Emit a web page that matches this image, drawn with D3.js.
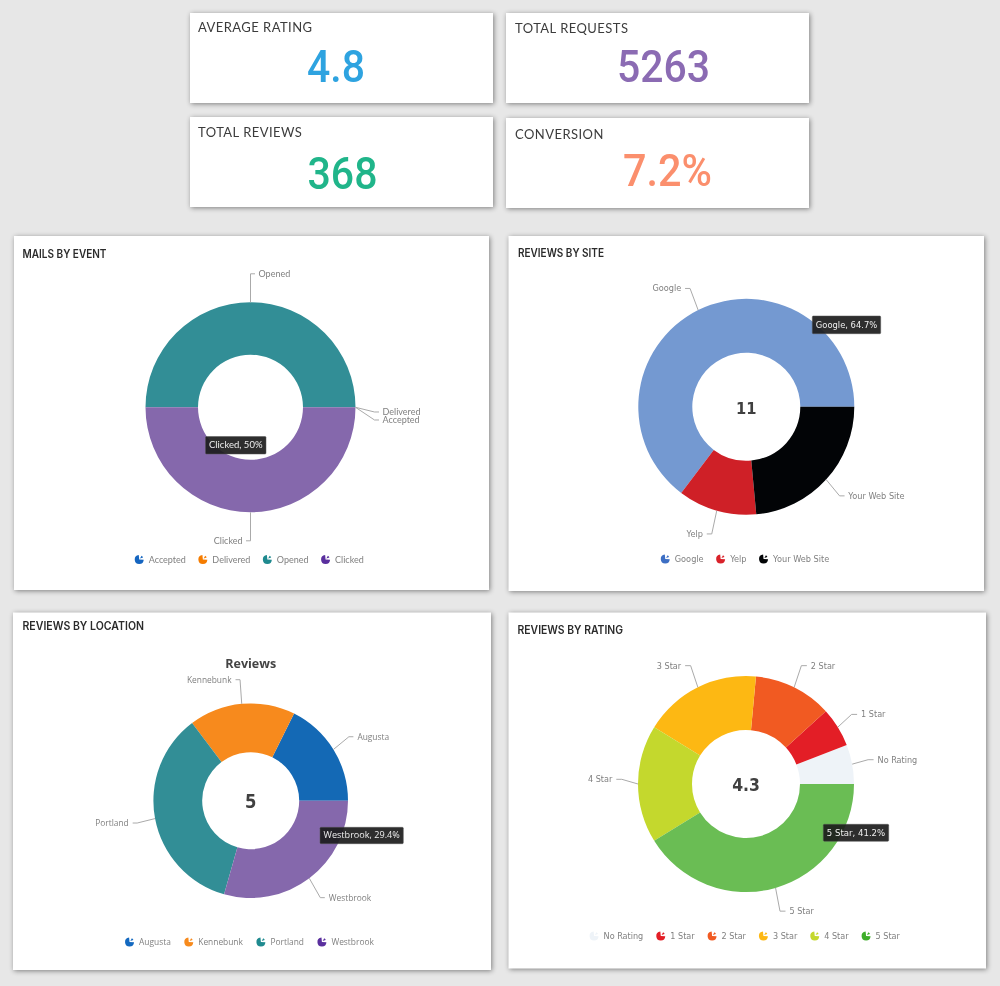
<!DOCTYPE html>
<html><head><meta charset="utf-8">
<script src="https://cdn.jsdelivr.net/npm/d3@7/dist/d3.min.js"></script>
<style>
html,body{margin:0;padding:0;background:#e7e7e7;overflow:hidden}
svg{display:block;filter:blur(.35px)}
.card{fill:#fff;filter:drop-shadow(1px 1px 2.5px rgba(0,0,0,.45))}
</style></head><body>
<svg id="chart" width="1000" height="986"></svg>
<script>
// ---- data ----
const kpiNames = ["AVERAGE RATING","TOTAL REQUESTS","TOTAL REVIEWS","CONVERSION"];
const kpiValues = ["4.8","5263","368","7.2%"];

const mailEvents = ["Accepted","Delivered","Opened","Clicked"];
const mailCounts = [0,0,50,50];

const siteNames = ["Google","Yelp","Your Web Site"];
const siteCounts = [11,2,4];

const locationNames = ["Augusta","Kennebunk","Portland","Westbrook"];
const locationCounts = [3,3,6,5];

const ratingNames = ["No Rating","1 Star","2 Star","3 Star","4 Star","5 Star"];
const ratingCounts = [1,1,2,3,3,7];

// ---- layout and style ----
const svg = d3.select("#chart");
const kpiCards = [
 {x:190,y:13,w:303,h:90,tx:198,ty:32,vx:336,vy:81.7,vw:58,color:"#2ea3e0"},
 {x:506,y:13,w:303,h:90,tx:515,ty:32.5,vx:663.5,vy:81.7,vw:93,color:"#8b6bb3"},
 {x:190,y:117,w:303,h:90,tx:198,ty:137,vx:342.5,vy:189,vw:70,color:"#20b58a"},
 {x:506,y:118,w:303,h:90,tx:515,ty:139,vx:667.5,vy:185.5,vw:89,color:"#fb8f6d"}
];
kpiCards.forEach((c,i)=>{
  svg.append("rect").attr("class","card").attr("x",c.x).attr("y",c.y).attr("width",c.w).attr("height",c.h);
  svg.append("text").attr("x",c.tx).attr("y",c.ty).text(kpiNames[i])
    .style("font-family","Lato").style("font-size","13px").style("fill","#3c3c3c").style("letter-spacing",".45px");
  svg.append("text").attr("x",c.vx).attr("y",c.vy).attr("text-anchor","middle").text(kpiValues[i])
    .style("font-family","Roboto").style("font-weight",500).style("font-size","44px").style("fill",c.color)
    .attr("textLength",c.vw).attr("lengthAdjust","spacingAndGlyphs");
});

const tealC="#328e96", purpleC="#8568ac";
const charts = [
 {title:"MAILS BY EVENT",card:[14,236,475,354],tx:22.5,ty:257.5,tw:84,
  names:mailEvents,values:mailCounts,cx:250.5,cy:407.3,R:105,r:52.5,L:28.5,xInset:0,H:4.5,gap:3.5,
  colors:["#1565c0","#f57c00",tealC,purpleC],legendColors:["#1565c0","#f57c00","#1f8a8f","#5a2f9e"],
  font:"Lato",fs:9,legendY:559.5,itemGap:17,
  tweak:{Delivered:{L:19,dy:4.7},Accepted:{L:19,dy:12.7}},
  tip:{name:"Clicked",x:205.5,y:436.5,w:60.5,h:17.5}},
 {title:"REVIEWS BY SITE",card:[508.5,236,475.5,355],tx:518,ty:257,tw:86,
  names:siteNames,values:siteCounts,cx:746.3,cy:406.8,R:108,r:54,L:24.2,xInset:6,H:5,gap:3.8,
  colors:["#7499d1","#cf2027","#020406"],legendColors:["#3d6fc4","#d9222a","#020406"],
  font:"DejaVu Sans",fs:8.2,legendY:559,itemGap:17,
  center:{text:"11",font:"DejaVu Sans",fs:16.5,y:408,w:20.5},
  tip:{name:"Google",x:812.3,y:316,w:68.4,h:17.7}},
 {title:"REVIEWS BY LOCATION",card:[13,612.5,478,357.5],tx:22.5,ty:629.5,tw:121.5,
  names:locationNames,values:locationCounts,cx:250.7,cy:800.7,R:97.3,r:48.5,L:24.2,xInset:6,H:4.5,gap:4,
  colors:["#1469b5","#f78a1d",tealC,purpleC],legendColors:["#1469c0","#f78a1d","#1f8a8f","#5a2f9e"],
  font:"Open Sans",fs:8.4,legendY:942,itemGap:18,
  center:{text:"5",font:"Open Sans",fs:19,y:801},heading:"Reviews",
  tip:{name:"Westbrook",x:320,y:827.3,w:83.3,h:16.4}},
 {title:"REVIEWS BY RATING",card:[508.5,612.5,477.5,356],tx:517.5,ty:634,tw:105.5,
  names:ratingNames,values:ratingCounts,cx:746,cy:784,R:108,r:54,L:24.2,xInset:8,H:5.5,gap:4,
  colors:["#eef3f8","#e31e26","#f15a22","#fdb813","#c4d82d","#6abd54"],
  legendColors:["#eef3f8","#e31e26","#f15a22","#fdb813","#c4d82d","#3fae2a"],
  font:"DejaVu Sans",fs:8.1,legendY:936,itemGap:17.5,
  tweak:{"4 Star":{dy:-4.7}},
  center:{text:"4.3",font:"DejaVu Sans",fs:17.5,y:785,w:27.7},
  tip:{name:"5 Star",x:823.3,y:824.3,w:65.4,h:17}}
];

const iconMain = d3.arc().innerRadius(0).outerRadius(4.5).startAngle(Math.PI/2+.05).endAngle(2*Math.PI-.1);
const iconBit = d3.arc().innerRadius(0).outerRadius(3.2).startAngle(.5).endAngle(1.25);

charts.forEach(c=>{
  svg.append("rect").attr("class","card").attr("x",c.card[0]).attr("y",c.card[1]).attr("width",c.card[2]).attr("height",c.card[3]);
  svg.append("text").attr("x",c.tx).attr("y",c.ty).text(c.title)
    .attr("textLength",c.tw).attr("lengthAdjust","spacingAndGlyphs")
    .style("font-family","Inter").style("font-weight",600).style("font-size","11.5px").style("fill","#2b2b2b");

  const pie = d3.pie().sort(null).startAngle(Math.PI/2).endAngle(Math.PI/2-2*Math.PI);
  const arc = d3.arc().innerRadius(c.r).outerRadius(c.R);
  const slices = pie(c.values);
  const g = svg.append("g").attr("transform",`translate(${c.cx},${c.cy})`);
  const color = d3.scaleOrdinal(c.names,c.colors);
  const legendColor = d3.scaleOrdinal(c.names,c.legendColors);

  g.selectAll("path.slice").data(slices).join("path").attr("class","slice")
    .attr("d",arc).attr("fill",(d,i)=>color(c.names[i]));

  // leaders and labels
  slices.forEach((d,i)=>{
    const name=c.names[i], tw=(c.tweak&&c.tweak[name])||{};
    const a=(d.startAngle+d.endAngle)/2, L=tw.L||c.L, dy=tw.dy||0;
    const p0=d3.pointRadial(a,c.R), py=d3.pointRadial(a,c.R+L), px=d3.pointRadial(a,c.R+L-c.xInset);
    const p1=[px[0],py[1]+dy];
    const right=p1[0]>=-0.01 && !(Math.abs(p1[0])<1 && p1[1]>0);
    const sgn=right?1:-1, p2=[p1[0]+sgn*c.H,p1[1]];
    g.append("path").attr("d",d3.line()([p0,p1,p2])).attr("fill","none").attr("stroke","#aaa").attr("stroke-width",1);
    g.append("text").attr("x",p2[0]+sgn*c.gap).attr("y",p2[1]).attr("dy",".35em")
      .attr("text-anchor",right?"start":"end").text(name)
      .style("font-family",c.font).style("font-size",c.fs+"px").style("fill","#808080");
  });

  if(c.center){
    const ct=svg.append("text").attr("x",c.cx).attr("y",c.center.y).attr("dy",".36em").attr("text-anchor","middle")
      .text(c.center.text).style("font-family",c.center.font).style("font-weight",700)
      .style("font-size",c.center.fs+"px").style("fill","#404040");
    if(c.center.w) ct.attr("textLength",c.center.w).attr("lengthAdjust","spacingAndGlyphs");
  }
  if(c.heading) svg.append("text").attr("x",c.cx).attr("y",667.5).attr("text-anchor","middle").text(c.heading)
    .style("font-family","Open Sans").style("font-weight",700).style("font-size","12.5px").style("fill","#444");

  // legend
  const lg=svg.append("g");
  let x=0;
  c.names.forEach((n,i)=>{
    const it=lg.append("g").attr("transform",`translate(${x},${c.legendY})`);
    it.append("path").attr("d",iconMain()).attr("fill",legendColor(n));
    it.append("path").attr("d",iconBit()).attr("transform","translate(.8,-1)").attr("fill",legendColor(n));
    const t=it.append("text").attr("x",9.5).attr("dy",".35em").text(n)
      .style("font-family",c.font).style("font-size",c.fs+"px").style("fill","#808080");
    x+=9.5+t.node().getComputedTextLength()+c.itemGap;
  });
  const tot=x-c.itemGap;
  lg.attr("transform",`translate(${c.cx+1-tot/2},0)`);

  // tooltip
  const k=c.names.indexOf(c.tip.name);
  const pct=c.values[k]/d3.sum(c.values)*100;
  svg.append("rect").attr("x",c.tip.x).attr("y",c.tip.y).attr("width",c.tip.w).attr("height",c.tip.h)
    .attr("rx",1).attr("fill","#1c1c1c").attr("fill-opacity",.92).attr("stroke","#555").attr("stroke-width",.5);
  svg.append("text").attr("x",c.tip.x+c.tip.w/2).attr("y",c.tip.y+c.tip.h/2).attr("dy",".35em").attr("text-anchor","middle")
    .text(`${c.tip.name}, ${d3.format(".1~f")(pct)}%`)
    .attr("textLength",c.tip.w-7).attr("lengthAdjust","spacingAndGlyphs")
    .style("font-family",c.font).style("font-size",c.fs+"px").style("fill","#eee");
});
</script>
</body></html>
